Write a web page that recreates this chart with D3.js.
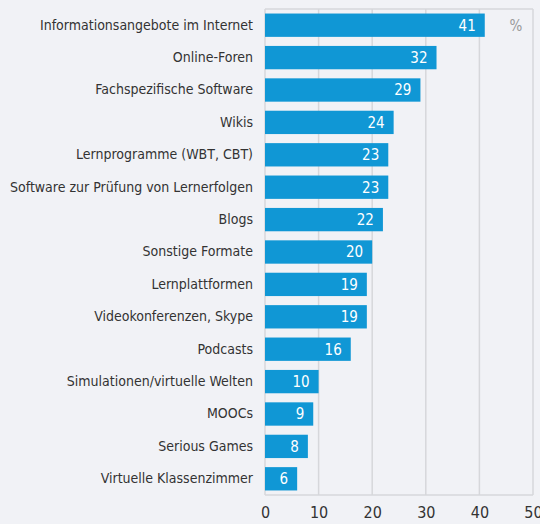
<!DOCTYPE html>
<html>
<head>
<meta charset="utf-8">
<script src="https://cdn.jsdelivr.net/npm/d3@7"></script>
<style>
  body { margin: 0; background: #f1f2f6; }
  svg { display: block; }
  text { font-family: "DejaVu Sans Condensed", sans-serif; }
</style>
</head>
<body>
<div id="chart-area"></div>
<script>
// data
var categories = ["Informationsangebote im Internet", "Online-Foren", "Fachspezifische Software",
  "Wikis", "Lernprogramme (WBT, CBT)", "Software zur Prüfung von Lernerfolgen", "Blogs",
  "Sonstige Formate", "Lernplattformen", "Videokonferenzen, Skype", "Podcasts",
  "Simulationen/virtuelle Welten", "MOOCs", "Serious Games", "Virtuelle Klassenzimmer"];
var values = [41, 32, 29, 24, 23, 23, 22, 20, 19, 19, 16, 10, 9, 8, 6];
var ticks = [0, 10, 20, 30, 40, 50];
var unit = "%";

var margin = { left:265, right:7, top:9, bottom:29 };
var width = 540 - margin.left - margin.right,
    height = 524 - margin.top - margin.bottom;
var fontFam = "DejaVu Sans Condensed, sans-serif";

var svg = d3.select("#chart-area").append("svg")
  .attr("width", 540).attr("height", 524);

svg.append("rect").attr("width", 540).attr("height", 524).attr("fill", "#f1f2f6");

var g = svg.append("g")
  .attr("transform", "translate(" + margin.left + "," + margin.top + ")");

var x = d3.scaleLinear().domain([0, 50]).range([0, width]);
var y = d3.scaleBand().domain(categories).range([0, height])
  .paddingInner(0.28).paddingOuter(0.14);

// grid
g.selectAll(".grid").data(ticks).enter().append("line")
  .attr("x1", d => x(d)).attr("x2", d => x(d))
  .attr("y1", 0).attr("y2", height)
  .attr("stroke", "#d6d7db").attr("stroke-width", 1.5);

// frame
g.append("line").attr("x1", 0).attr("x2", width).attr("y1", 0).attr("y2", 0)
  .attr("stroke", "#d6d7db").attr("stroke-width", 1.5);
g.append("line").attr("x1", 0).attr("x2", width).attr("y1", height).attr("y2", height)
  .attr("stroke", "#d6d7db").attr("stroke-width", 1.5);

// bars
g.selectAll(".bar").data(values).enter().append("rect")
  .attr("x", 0)
  .attr("y", (d, i) => y(categories[i]))
  .attr("width", d => x(d))
  .attr("height", y.bandwidth())
  .attr("fill", "#1097d5");

// value labels
g.selectAll(".val").data(values).enter().append("text")
  .attr("x", d => x(d) - 9)
  .attr("y", (d, i) => y(categories[i]) + y.bandwidth() / 2)
  .attr("dy", "0.36em")
  .attr("text-anchor", "end")
  .attr("font-size", "15px")
  .attr("fill", "#ffffff")
  .text(d => d);

// category labels
var yAxis = g.append("g").call(d3.axisLeft(y).tickSize(0).tickPadding(12));
yAxis.select(".domain").remove();
yAxis.selectAll("text")
  .attr("font-size", "14px")
  .attr("fill", "#333333")
  .style("font-family", fontFam);

// x axis
var xAxis = g.append("g").attr("transform", "translate(0," + height + ")")
  .call(d3.axisBottom(x).tickValues(ticks).tickSize(0).tickPadding(12));
xAxis.select(".domain").remove();
xAxis.selectAll("text")
  .attr("font-size", "16px")
  .attr("fill", "#333333")
  .style("font-family", fontFam);

// unit
g.append("text")
  .attr("x", x(46.8)).attr("y", y(categories[0]) + y.bandwidth() / 2)
  .attr("dy", "0.36em")
  .attr("text-anchor", "middle")
  .attr("font-size", "15px")
  .attr("fill", "#9a9a9a")
  .text(unit);
</script>
</body>
</html>
